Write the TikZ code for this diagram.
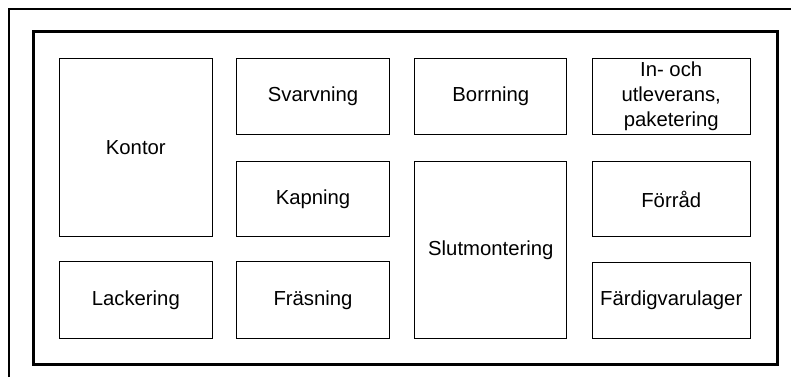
\documentclass[tikz,border=0pt]{standalone}
\usepackage{fontspec}
\setmainfont{Liberation Sans}
\begin{document}
\begin{tikzpicture}[x=1pt,y=-1pt,
  room/.style={draw, line width=1pt, inner sep=0pt, align=center,
    font=\fontsize{20.3}{25}\selectfont},
  hallwall/.style={draw, line width=3pt, inner sep=0pt},
  pageframe/.style={line width=1.2pt}
]
\useasboundingbox (0,0) rectangle (791,377);
\fill[white] (0,0) rectangle (791,377);

% page frame (top and left edges)
\coordinate (fbl) at (9,377);
\coordinate (fcorner) at (9,9);
\coordinate (ftr) at (791,9);
\draw[pageframe] (fbl) -- (fcorner) -- (ftr);

% outer wall of the workshop
\node[hallwall, minimum width=744pt, minimum height=332pt] (hall) at (405,198) {};

% rooms, column 1
\node[room, minimum width=153pt, minimum height=178.4pt] (kontor) at (135.8,147.5) {Kontor};
\node[room, minimum width=153pt, minimum height=76.6pt] (lack) at (135.8,300) {Lackering};

% rooms, column 2
\node[room, minimum width=152.6pt, minimum height=76pt] (svarv) at (313,96.3) {Svarvning};
\node[room, minimum width=152.6pt, minimum height=75pt] (kap) at (313,199.2) {Kapning};
\node[room, minimum width=152.6pt, minimum height=76.6pt] (fras) at (313,300) {Fräsning};

% rooms, column 3
\node[room, minimum width=151.7pt, minimum height=76pt] (borr) at (490.8,96.3) {Borrning};
\node[room, minimum width=151.7pt, minimum height=176.3pt] (slut) at (490.8,250) {Slutmontering};

% rooms, column 4
\node[room, minimum width=157.7pt, minimum height=76pt] (inut) at (671.2,96.3) {In- och\\utleverans,\\paketering};
\node[room, minimum width=157.7pt, minimum height=75pt] (forrad) at (671.2,199.2) {Förråd};
\node[room, minimum width=157.7pt, minimum height=76pt] (fardig) at (671.2,300) {Färdigvarulager};
\end{tikzpicture}
\end{document}
